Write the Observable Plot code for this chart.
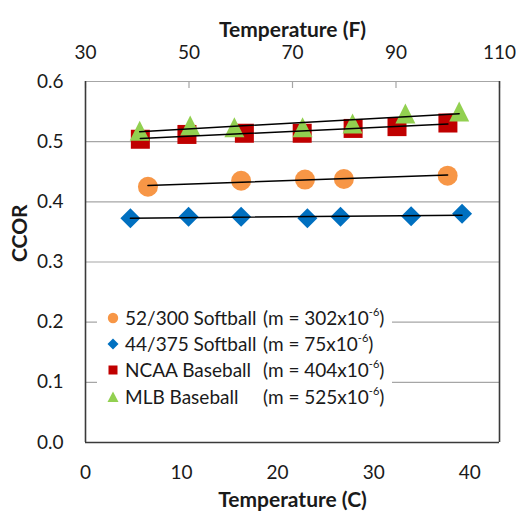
<!DOCTYPE html>
<html><head><meta charset="utf-8">
<script src="https://cdn.jsdelivr.net/npm/d3@7"></script>
<script src="https://cdn.jsdelivr.net/npm/@observablehq/plot@0.6"></script>
<style>
html,body{margin:0;padding:0;background:#fff;}
#wrap{position:relative;width:516px;height:518px;font-family:Lato,sans-serif;}
#legend{position:absolute;left:97px;top:304px;width:295px;height:106px;background:#fff;}
.row{position:absolute;left:0;height:26px;width:295px;font-size:19px;color:#1a1a1a;white-space:nowrap;}
.row svg{position:absolute;left:10px;top:7px;}
.row .nm{position:absolute;left:28px;top:0;line-height:26px;}
.row .sl{position:absolute;left:166px;top:0;line-height:26px;}
.row sup{font-size:11px;vertical-align:9px;line-height:0;}
</style>
</head><body>
<div id="wrap"><div id="chart"></div><div id="legend"></div></div>
<script>
// ---- data (temperature in °C, CCOR) ----
const seriesNames = ["52/300 Softball", "44/375 Softball", "NCAA Baseball", "MLB Baseball"];
const seriesColors = ["#F79646", "#0070C0", "#C00000", "#92D050"];
const seriesSlopes = ["302", "75", "404", "525"];

const softball52Temp = [6.5, 16.2, 22.85, 26.9, 37.7];
const softball52Ccor = [0.425, 0.435, 0.437, 0.438, 0.4435];
const softball44Temp = [4.67, 10.73, 16.2, 23.1, 26.55, 33.9, 39.2];
const softball44Ccor = [0.3726, 0.3754, 0.3754, 0.3726, 0.3754, 0.376, 0.380];
const ncaaTemp = [5.71, 10.56, 16.54, 22.56, 27.86, 32.43, 37.73];
const ncaaCcor = [0.504, 0.512, 0.514, 0.514, 0.522, 0.525, 0.531];
const mlbTemp = [5.64, 10.9, 15.5, 22.6, 27.8, 33.3, 38.9];
const mlbCcor = [0.518, 0.527, 0.524, 0.524, 0.530, 0.547, 0.550];

const xTicksC = [0, 10, 20, 30, 40];
const xTicksF = [30, 50, 70, 90, 110];
const yTicks = [0, 0.1, 0.2, 0.3, 0.4, 0.5, 0.6];

const xDomain = [0, 43.1];
const fDomain = [30, 110];
const fToX = f => xDomain[0] + (f - fDomain[0]) / (fDomain[1] - fDomain[0]) * (xDomain[1] - xDomain[0]);

const temps = [softball52Temp, softball44Temp, ncaaTemp, mlbTemp];
const ccors = [softball52Ccor, softball44Ccor, ncaaCcor, mlbCcor];
const rows = seriesNames.map((name, s) => temps[s].map((t, i) => ({series: name, t, v: ccors[s][i]})));

// custom symbols (half-extent = r)
const half = size => Math.sqrt(size / Math.PI);
const symCircle = {draw(c, size){const h = half(size); c.moveTo(h, 0); c.arc(0, 0, h, 0, 2 * Math.PI);}};
const symDiamond = {draw(c, size){const h = half(size); c.moveTo(0, -h); c.lineTo(h, 0); c.lineTo(0, h); c.lineTo(-h, 0); c.closePath();}};
const symSquare = {draw(c, size){const h = half(size); c.rect(-h, -h, 2 * h, 2 * h);}};
const symTriangle = {draw(c, size){const h = half(size); c.moveTo(0, -h); c.lineTo(h, h); c.lineTo(-h, h); c.closePath();}};
const symbols = [symCircle, symDiamond, symSquare, symTriangle];
const radii = [10, 10, 9.5, 10];

const chart = Plot.plot({
  width: 516, height: 518,
  marginLeft: 85, marginRight: 17, marginTop: 81, marginBottom: 76,
  style: {fontFamily: "Lato, sans-serif", fontSize: "19px", color: "#1a1a1a", background: "white"},
  x: {domain: xDomain},
  y: {domain: [0, 0.6]},
  marks: [
    Plot.gridY(yTicks.slice(1), {stroke: "#a6a6a6", strokeOpacity: 1, strokeWidth: 1.2}),
    Plot.tickX(xTicksF.map(fToX), {x: d => d, stroke: "#a6a6a6", strokeWidth: 1.2, insetBottom: 354}),
    Plot.ruleX([xDomain[0], xDomain[1]], {stroke: "#3a3a3a", strokeWidth: 1.6}),
    Plot.ruleY([0], {stroke: "#3a3a3a", strokeWidth: 1.6}),
    Plot.axisY({ticks: yTicks, tickFormat: d3.format(".1f"), tickSize: 0, tickPadding: 22, label: null}),
    Plot.axisX({anchor: "bottom", ticks: xTicksC, tickSize: 0, tickPadding: 30, lineAnchor: "middle", label: null}),
    Plot.axisX({anchor: "top", ticks: xTicksF.map(fToX), tickSize: 0, tickPadding: 29, lineAnchor: "middle", label: null,
      tickFormat: x => String(Math.round(fDomain[0] + (x - xDomain[0]) / (xDomain[1] - xDomain[0]) * (fDomain[1] - fDomain[0])))}),
    Plot.text(["Temperature (F)"], {frameAnchor: "top", dy: -59, fontWeight: "bold", fontSize: 21}),
    Plot.text(["Temperature (C)"], {frameAnchor: "bottom", dy: 64, fontWeight: "bold", fontSize: 21}),
    Plot.text(["CCOR"], {frameAnchor: "left", dx: -65, rotate: -90, fontWeight: "bold", fontSize: 21}),
    ...rows.map((data, s) => Plot.dot(data, {x: "t", y: "v", symbol: symbols[s], r: radii[s], fill: seriesColors[s], stroke: "none"})),
    ...rows.map(data => Plot.linearRegressionY(data, {x: "t", y: "v", stroke: "black", strokeWidth: 1.5, ci: 0}))
  ]
});
document.getElementById("chart").append(chart);

// legend
const legendShapes = [
  '<circle cx="6" cy="6" r="5.2"/>',
  '<path d="M6 0.5L11.5 6L6 11.5L0.5 6Z"/>',
  '<rect x="1.5" y="1.5" width="9" height="9"/>',
  '<path d="M6 0.5L11.5 11L0.5 11Z"/>'
];
const legend = d3.select("#legend");
seriesNames.forEach((name, s) => {
  const row = legend.append("div").attr("class", "row").style("top", (1 + s * 26.2) + "px");
  row.html(`<svg width="12" height="12" fill="${seriesColors[s]}">${legendShapes[s]}</svg><span class="nm">${name}</span><span class="sl">(m = ${seriesSlopes[s]}x10<sup>-6</sup>)</span>`);
});
</script>
</body></html>
